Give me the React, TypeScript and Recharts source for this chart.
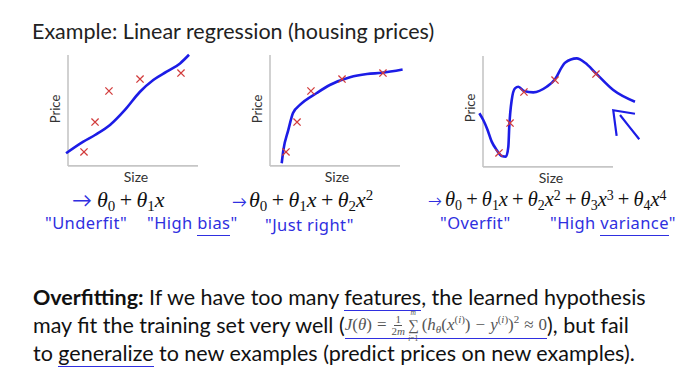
import React from 'react';
import { ComposedChart, Line, Scatter, XAxis, YAxis, ReferenceLine } from 'recharts';

// training set (same five houses in every panel)
const trainSize = [12.3, 20.8, 31.5, 55.4, 86.9];
const trainPrice = [12.6, 39.6, 67.6, 78.4, 83.8];

// panel 1: straight-ish fit (underfit)
const fit1Size = [-1.5, 11.8, 20.8, 32.3, 43.8, 55.4, 65.6, 75.9, 86.2, 93.1];
const fit1Price = [11.4, 21.9, 27.9, 36.9, 50.5, 66.9, 77.5, 85, 92.5, 100.3];

// panel 2: quadratic-ish fit (just right)
const fit2Size = [9, 10.3, 14, 17.7, 23, 36, 46, 61.5, 74.6, 86, 102];
const fit2Price = [2.4, 14.4, 32, 47.7, 55, 65.8, 73, 80, 82.9, 84, 87];

// panel 3: wiggly fit (overfit)
const fit3Size = [-2.8, 0.2, 3.3, 6.7, 10.5, 14.4, 17.7, 19.5, 20.2, 22.1, 24.6, 27.2, 31.5, 38.7, 49, 55.4, 60.5, 63.1, 72.1, 78.5, 86.9, 100.2, 116.9];
const fit3Price = [48.4, 42.3, 34, 22.8, 15.3, 9.9, 9.3, 18.3, 36.3, 60.4, 70.9, 72.3, 68.5, 67.3, 72.3, 79, 89.8, 94, 97.9, 94, 84.4, 69.4, 58.8];

// hand-drawn arrow in panel 3
const arrowHeadSize = [102.8, 100.2, 116.9];
const arrowHeadPrice = [28, 51.1, 48];
const arrowShaftSize = [105.4, 112, 120.2];
const arrowShaftPrice = [46.8, 37, 25];

const axisX = [0, 100];
const axisY = [0, 100];

const zip = (xs: number[], ys: number[]) => xs.map((x, i) => ({ x, y: ys[i] }));
const train = zip(trainSize, trainPrice);

const BLUE = '#1c1ce6';
const HAND = '#2f2fe0';
const RED = '#d23c3c';
const AXIS = '#c6c6c6';

const Cross = (props: any) => {
  const { cx, cy } = props;
  if (cx == null || cy == null) return null;
  const s = 3.6;
  return (
    <path
      d={`M${cx - s},${cy - s}L${cx + s},${cy + s}M${cx + s},${cy - s}L${cx - s},${cy + s}`}
      stroke={RED}
      strokeWidth={1.3}
      fill="none"
    />
  );
};

const W = 182;
const H = 133;

function Panel({ left, top, fit, extra }: { left: number; top: number; fit: { x: number; y: number }[]; extra?: React.ReactNode }) {
  return (
    <div style={{ position: 'absolute', left, top, width: W, height: H }}>
      <ComposedChart width={W} height={H} margin={{ top: 0, right: 0, bottom: 0, left: 0 }}>
        <XAxis type="number" dataKey="x" domain={[-10, 130]} hide />
        <YAxis type="number" dataKey="y" domain={[-10, 110]} hide />
        <ReferenceLine segment={[{ x: axisX[0], y: axisY[0] }, { x: axisX[1], y: axisY[0] }]} stroke={AXIS} strokeWidth={1.6} />
        <ReferenceLine segment={[{ x: axisX[0], y: axisY[0] }, { x: axisX[0], y: axisY[1] }]} stroke={AXIS} strokeWidth={1.6} />
        <Line data={fit} dataKey="y" type="monotone" stroke={BLUE} strokeWidth={2.6} dot={false} isAnimationActive={false} />
        {extra}
        <Scatter data={train} dataKey="y" shape={<Cross />} isAnimationActive={false} />
      </ComposedChart>
    </div>
  );
}

const abs = (left: number, top: number, style: React.CSSProperties = {}): React.CSSProperties => ({
  position: 'absolute',
  left,
  top,
  whiteSpace: 'nowrap',
  ...style,
});

const sans = 'Lato, "Open Sans", sans-serif';
const serif = '"Liberation Serif", "DejaVu Serif", serif';

const Sub = ({ c }: { c: string }) => (
  <span style={{ fontSize: '0.68em', position: 'relative', top: '0.28em', fontStyle: 'normal' }}>{c}</span>
);
const Sup = ({ c }: { c: string }) => (
  <span style={{ fontSize: '0.68em', position: 'relative', top: '-0.45em', fontStyle: 'normal' }}>{c}</span>
);
const I = ({ c }: { c: string }) => <span style={{ fontStyle: 'italic' }}>{c}</span>;
const Plus = () => <span style={{ margin: '0 0.2em' }}>+</span>;

function Term({ k }: { k: number }) {
  return (
    <>
      <I c="θ" />
      <Sub c={String(k)} />
      {k >= 1 && <I c="x" />}
      {k >= 2 && <Sup c={String(k)} />}
    </>
  );
}

function Hypothesis({ degree, size }: { degree: number; size: number }) {
  const terms = [];
  for (let k = 0; k <= degree; k++) {
    terms.push(
      <React.Fragment key={k}>
        {k > 0 && <Plus />}
        <Term k={k} />
      </React.Fragment>
    );
  }
  return <span style={{ fontFamily: serif, fontSize: size, color: '#111' }}>{terms}</span>;
}

const handStyle: React.CSSProperties = { fontFamily: '"Noto Sans", sans-serif', fontSize: 16.5, color: HAND, letterSpacing: 0.4 };
const ul: React.CSSProperties = { borderBottom: `1.6px solid ${HAND}`, paddingBottom: 1 };

function Cost() {
  const f: React.CSSProperties = { fontFamily: serif, fontSize: 17, color: '#555', lineHeight: '18px' };
  const sup: React.CSSProperties = { fontSize: 11, position: 'relative', top: -6, lineHeight: '11px' };
  return (
    <span style={{ ...f, display: 'inline-flex', alignItems: 'center', verticalAlign: 'middle', position: 'relative', top: -2, height: 26, borderBottom: `1.6px solid ${HAND}` }}>
      <I c="J" />(<I c="θ" />)<span style={{ margin: '0 5px' }}>=</span>
      <span style={{ display: 'inline-flex', flexDirection: 'column', alignItems: 'center', fontSize: 11, lineHeight: '11px' }}>
        <span style={{ borderBottom: '0.8px solid #555', padding: '0 1px' }}>1</span>
        <span>2<I c="m" /></span>
      </span>
      <span style={{ display: 'inline-flex', flexDirection: 'column', alignItems: 'center', margin: '0 3px' }}>
        <span style={{ fontSize: 7.5, lineHeight: '9px' }}><I c="m" /></span>
        <span style={{ fontSize: 15, lineHeight: '17px' }}>∑</span>
        <span style={{ fontSize: 7.5, lineHeight: '9px' }}><I c="i" />=1</span>
      </span>
      (<I c="h" /><span style={{ fontSize: 11, position: 'relative', top: 4, lineHeight: '11px' }}><I c="θ" /></span>(<I c="x" />
      <span style={sup}>(<I c="i" />)</span>)<span style={{ margin: '0 5px' }}>−</span><I c="y" />
      <span style={sup}>(<I c="i" />)</span>)
      <span style={sup}>2</span>
      <span style={{ margin: '0 5px' }}>≈</span>0
    </span>
  );
}

export default function App() {
  const para: React.CSSProperties = { fontSize: 21.5, color: '#111', lineHeight: '28px' };
  return (
    <div style={{ position: 'absolute', left: 0, top: 0, width: 683, height: 367, background: '#fff', overflow: 'hidden', fontFamily: sans }}>
      <div style={abs(32, 18, { fontSize: 21.5, color: '#222' })}>Example: Linear regression (housing prices)</div>

      <Panel left={55} top={43.9} fit={zip(fit1Size, fit1Price)} />
      <Panel left={257} top={43.9} fit={zip(fit2Size, fit2Price)} />
      <Panel
        left={470}
        top={44.9}
        fit={zip(fit3Size, fit3Price)}
        extra={[
          <Line key="ah" data={zip(arrowHeadSize, arrowHeadPrice)} dataKey="y" type="linear" stroke={BLUE} strokeWidth={2.2} dot={false} isAnimationActive={false} />,
          <Line key="as" data={zip(arrowShaftSize, arrowShaftPrice)} dataKey="y" type="linear" stroke={BLUE} strokeWidth={2.2} dot={false} isAnimationActive={false} />,
        ]}
      />

      {/* axis labels */}
      <div style={abs(55, 109, { fontSize: 13, color: '#333', transform: 'translate(-50%,-50%) rotate(-90deg)' })}>Price</div>
      <div style={abs(257, 109, { fontSize: 13, color: '#333', transform: 'translate(-50%,-50%) rotate(-90deg)' })}>Price</div>
      <div style={abs(470, 108, { fontSize: 13, color: '#333', transform: 'translate(-50%,-50%) rotate(-90deg)' })}>Price</div>
      <div style={abs(136, 176, { fontSize: 14, color: '#333', transform: 'translate(-50%,-50%)' })}>Size</div>
      <div style={abs(337, 176, { fontSize: 14, color: '#333', transform: 'translate(-50%,-50%)' })}>Size</div>
      <div style={abs(551, 177, { fontSize: 14, color: '#333', transform: 'translate(-50%,-50%)' })}>Size</div>

      {/* hypotheses */}
      <div style={abs(72, 187)}>
        <span style={{ color: HAND, fontSize: 20, marginRight: 5 }}>→</span>
        <Hypothesis degree={1} size={22} />
      </div>
      <div style={abs(232, 187)}>
        <span style={{ color: HAND, fontSize: 15, marginRight: 2 }}>→</span>
        <Hypothesis degree={2} size={22} />
      </div>
      <div style={abs(428, 188)}>
        <span style={{ color: HAND, fontSize: 14, marginRight: 3 }}>→</span>
        <Hypothesis degree={4} size={20.5} />
      </div>

      {/* handwritten notes */}
      <div style={abs(45, 211, handStyle)}>"Underfit"</div>
      <div style={abs(147, 211, handStyle)}>"High <span style={ul}>bias</span>"</div>
      <div style={abs(265, 213, handStyle)}>"Just right"</div>
      <div style={abs(440, 211, handStyle)}>"Overfit"</div>
      <div style={abs(550, 211, handStyle)}>"High <span style={ul}>variance</span>"</div>

      {/* paragraph */}
      <div style={abs(33, 283, para)}>
        <b>Overfitting:</b> If we have too many <span style={{ borderBottom: `1.6px solid ${HAND}` }}>features</span>, the learned hypothesis
      </div>
      <div style={abs(33, 311, para)}>
        may fit the training set very well (<Cost />), but fail
      </div>
      <div style={abs(33, 339, para)}>
        to <span style={{ borderBottom: `1.6px solid ${HAND}` }}>generalize</span> to new examples (predict prices on new examples).
      </div>
    </div>
  );
}
